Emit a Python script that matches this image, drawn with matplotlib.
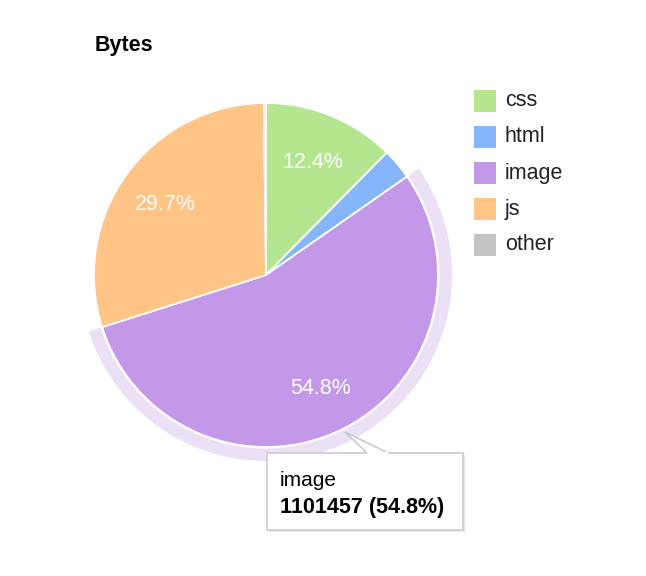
import matplotlib.pyplot as plt
import matplotlib.patches as mpatches
import numpy as np

plt.rcParams['font.family'] = ['Liberation Sans', 'DejaVu Sans']

#%% data
categories = ['css', 'html', 'image', 'js', 'other']
bytes_ = [249235, 58289, 1101457, 596957, 4020]
colors = ['#b3e68f', '#85b6f9', '#c498e8', '#ffc486', '#c4c4c4']
highlight = 'image'

total = sum(bytes_)
pct = [100.0 * b / total for b in bytes_]

#%% figure in pixel coordinates
W, H = 646, 576
fig = plt.figure(figsize=(W / 100, H / 100), dpi=100)
ax = fig.add_axes([0, 0, 1, 1])
ax.set_xlim(0, W)
ax.set_ylim(0, H)
ax.set_aspect('equal')
ax.axis('off')

cx, cy, r = 266, H - 275, 172

wedges, _ = ax.pie(bytes_, colors=colors, startangle=90, counterclock=False,
                   center=(cx, cy), radius=r,
                   wedgeprops=dict(edgecolor='white', linewidth=1.3))
ax.set_xlim(0, W)
ax.set_ylim(0, H)

# percent labels inside large slices
for w, p in zip(wedges, pct):
    if p < 5:
        continue
    mid = np.deg2rad((w.theta1 + w.theta2) / 2)
    ax.text(cx + 0.72 * r * np.cos(mid), cy + 0.72 * r * np.sin(mid) - 2,
            '%.1f%%' % p, color='white', fontsize=15.5, ha='center', va='center')

# hover ring around highlighted slice
hw = wedges[categories.index(highlight)]
ax.add_patch(mpatches.Wedge((cx, cy), r + 14, hw.theta1, hw.theta2, width=12.5,
                            facecolor='#ebe0f6', edgecolor='none'))

# title
ax.text(95, H - 45, 'Bytes', fontsize=15.5, fontweight='bold', ha='left', va='center')

# legend
for i, (c, col) in enumerate(zip(categories, colors)):
    y = H - (101 + 36 * i)
    ax.add_patch(mpatches.Rectangle((474, y - 11), 22, 22, facecolor=col, edgecolor='none'))
    ax.text(505, y, c, fontsize=15.5, ha='left', va='center', color='#222222')

# tooltip
hi = categories.index(highlight)
bx0, bx1, by0, by1 = 267, 463, H - 530, H - 453
ax.add_patch(mpatches.Rectangle((bx0 + 2, by0 - 2), bx1 - bx0, by1 - by0,
                                facecolor='#e6e6e6', edgecolor='none'))
ax.add_patch(mpatches.Rectangle((bx0, by0), bx1 - bx0, by1 - by0,
                                facecolor='white', edgecolor='#cccccc', linewidth=1.2))
ptr = mpatches.Polygon([(367, by1), (345, H - 432), (388, by1)], closed=False,
                       facecolor='white', edgecolor='#cccccc', linewidth=1.2)
ax.add_patch(ptr)
ax.plot([368, 387], [by1, by1], color='white', linewidth=1.6)
ax.text(280, H - 480, categories[hi], fontsize=15, ha='left', va='center')
ax.text(280, H - 507, '%d (%.1f%%)' % (bytes_[hi], pct[hi]), fontsize=15.5,
        fontweight='bold', ha='left', va='center')

fig.savefig('out.png', dpi=100)
